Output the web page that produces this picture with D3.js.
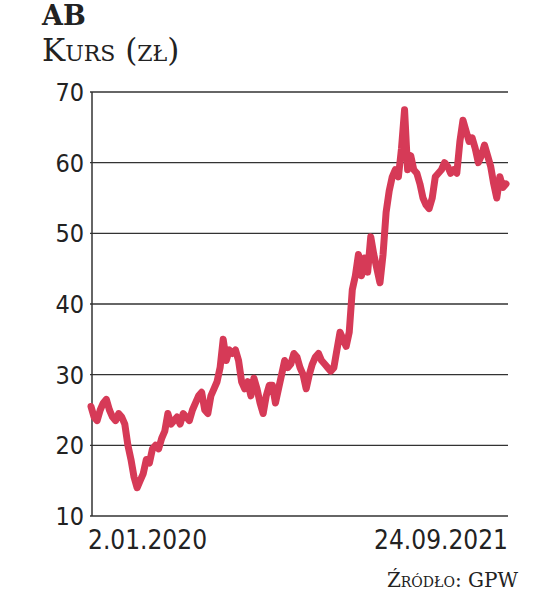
<html>
<head>
<script src="https://d3js.org/d3.v7.min.js"></script>
<style>
body { margin:0; background:#fff; }
</style>
</head>
<body>
<svg id="chart" width="554" height="593"></svg>
<script>
// kurs AB, odczyt z wykresu (2.01.2020 - 24.09.2021)
var prices = [25.5,24,23.5,25,26,26.5,25,24,23.5,24.5,24,23,20,18,15.5,14,15,16,18,17.5,19.5,20,19.5,21,22,24.5,23,23.5,24,23,24.5,24,23.5,25,26,27,27.5,25,24.5,27,28,29,31,35,32,33.5,33,33.5,32,29,28,29,27,29.5,28,26,24.5,27,28.5,28.5,26,28,30,32,31,31.5,33,32.5,31,30,28,30,31.5,32.5,33,32,31.5,31,30.5,31,33.5,36,35,34,36,42,44,47,44,46.5,44.5,49.5,47,45,43,47,53,56,58,59,58,62,67.5,59,61,59,58.5,57,55,54,53.5,55,58,58.5,59,60,59.5,58.5,59,58.5,63,66,64.5,63,63.5,62,60,61,62.5,61,59.5,57,55,58,56.5,57];
var yTicks = [10,20,30,40,50,60,70];
var dateLabels = ["2.01.2020","24.09.2021"];

var svg = d3.select("#chart");
var x = d3.scaleLinear().domain([0, prices.length-1]).range([91, 506]);
var y = d3.scaleLinear().domain([10,70]).range([516, 92]);

// tytul
svg.append("text").attr("x",42).attr("y",25).attr("font-family","DejaVu Serif")
  .attr("font-weight","bold").attr("font-size",27).attr("fill","#222").text("AB");
svg.append("text").attr("x",42).attr("y",61).attr("font-family","DejaVu Serif")
  .attr("font-size",31).attr("fill","#222").style("font-variant","small-caps").text("Kurs (zł)");

// siatka
svg.selectAll(".grid").data(yTicks).enter().append("line")
  .attr("x1",90).attr("x2",508).attr("y1",d=>y(d)).attr("y2",d=>y(d))
  .attr("stroke","#333").attr("stroke-width",1.3);
svg.append("line").attr("x1",92).attr("x2",92).attr("y1",y(70)).attr("y2",y(10))
  .attr("stroke","#333").attr("stroke-width",1.5);

svg.selectAll(".yl").data(yTicks).enter().append("text")
  .attr("x",84).attr("y",d=>y(d)+9).attr("text-anchor","end")
  .attr("font-family","DejaVu Sans").style("font-stretch","condensed")
  .attr("font-size",25).attr("fill","#222").text(d=>d);

svg.append("text").attr("x",88).attr("y",549).attr("font-family","DejaVu Sans")
  .style("font-stretch","condensed").attr("font-size",26).attr("fill","#222").text(dateLabels[0]);
svg.append("text").attr("x",508).attr("y",549).attr("text-anchor","end").attr("font-family","DejaVu Sans")
  .style("font-stretch","condensed").attr("font-size",26).attr("fill","#222").text(dateLabels[1]);

// linia
var line = d3.line().x((d,i)=>x(i)).y(d=>y(d)).curve(d3.curveLinear);
svg.append("path").datum(prices).attr("d",line).attr("fill","none")
  .attr("stroke","#d63a57").attr("stroke-width",7).attr("stroke-linejoin","round").attr("stroke-linecap","round");

svg.append("text").attr("x",518).attr("y",587).attr("text-anchor","end").attr("font-family","DejaVu Serif")
  .attr("font-size",20).attr("fill","#222").style("font-variant","small-caps").text("Źródło: GPW");
</script>
</body>
</html>
